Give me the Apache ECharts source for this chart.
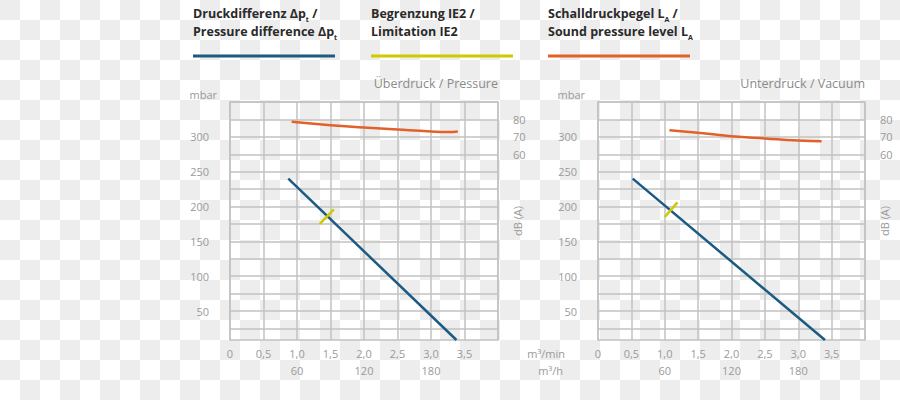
<!DOCTYPE html>
<html>
<head>
<meta charset="utf-8">
<script src="https://cdn.jsdelivr.net/npm/echarts@6/dist/echarts.min.js"></script>
<style>
  html, body { margin: 0; padding: 0; }
  body {
    width: 900px; height: 400px;
    background-color: #fff;
    background-image: conic-gradient(#fff 25%, #ededed 0 50%, #fff 0 75%, #ededed 0);
    background-size: 40px 40px;
  }
  #main { width: 900px; height: 400px; }
</style>
</head>
<body>
<div id="main"></div>
<script>
// flow axis (m3/min) and secondary flow axis (m3/h)
var flowLabels = [0, 0.5, 1, 1.5, 2, 2.5, 3, 3.5];
var hourLabels = [60, 120, 180];
// pressure axis (mbar) and sound axis (dB(A))
var mbarTicks = [25, 50, 75, 100, 125, 150, 175, 200, 225, 250, 275, 300, 325, 350];
var mbarLabels = [50, 100, 150, 200, 250, 300];
var dbLabels = [60, 70, 80];

// Überdruck / Pressure
var pressureOver = [[0.87, 240], [3.38, 8.5]];
var limitOver = [[1.34, 175], [1.55, 196]];
var soundOver = [[0.92, 78.6], [1.5, 76.7], [2.0, 75.4], [2.5, 74.2], [3.0, 73.1], [3.25, 72.8], [3.4, 73.1]];

// Unterdruck / Vacuum
var pressureVac = [[0.52, 240], [3.40, 8.5]];
var limitVac = [[1.0, 185], [1.19, 206]];
var soundVac = [[1.07, 73.8], [1.5, 72.3], [2.0, 70.4], [2.5, 69.1], [3.0, 67.9], [3.35, 67.5]];

var mbarMin = 8.5, mbarMax = 350;
// dB axis is tied to the mbar axis: 70 dB on the 300 line, 10 dB per 25 mbar
var dbMin = 70 - (300 - mbarMin) / 2.5;
var dbMax = 70 + (mbarMax - 300) / 2.5;

var BLUE = '#1b5a82', YELLOW = '#cfc900', ORANGE = '#e2612b';
var GRIDLINE = '#c2c2c2', LABEL = '#9a9a9a';
var FONT = 'Open Sans';

function flowFmt(v) {
  return v === 0 ? '0' : v.toFixed(1).replace('.', ',');
}

function flowAxis(grid) {
  return {
    type: 'value', gridIndex: grid, min: 0, max: 4, interval: 0.5,
    axisLine: { show: false },
    axisTick: { show: false },
    axisLabel: { customValues: flowLabels, formatter: flowFmt, color: LABEL, fontSize: 11, fontFamily: FONT, margin: 8 },
    splitLine: { show: true, lineStyle: { color: GRIDLINE, width: 1.5 } }
  };
}

function hourAxis(grid) {
  return {
    type: 'value', gridIndex: grid, min: 0, max: 240, position: 'bottom', offset: 17,
    axisLine: { show: false },
    axisTick: { show: false },
    axisLabel: { customValues: hourLabels, color: LABEL, fontSize: 11, fontFamily: FONT, margin: 8 },
    splitLine: { show: false }
  };
}

function mbarAxis(grid) {
  return {
    type: 'value', gridIndex: grid, min: mbarMin, max: mbarMax, position: 'left',
    name: 'mbar', nameLocation: 'end', nameGap: 2,
    nameTextStyle: { color: LABEL, fontSize: 11, fontFamily: FONT, align: 'right', padding: [0, 13, 0, 0] },
    axisLine: { show: false },
    axisTick: { show: false, customValues: mbarTicks },
    axisLabel: { customValues: mbarLabels, color: LABEL, fontSize: 11, fontFamily: FONT, margin: 21 },
    splitLine: { show: true, lineStyle: { color: GRIDLINE, width: 1.5 } }
  };
}

function dbAxis(grid) {
  return {
    type: 'value', gridIndex: grid, min: dbMin, max: dbMax, position: 'right',
    name: 'dB (A)', nameLocation: 'middle', nameRotate: 90, nameGap: 14, nameMoveOverlap: false,
    nameTextStyle: { color: LABEL, fontSize: 11, fontFamily: FONT },
    axisLine: { show: false },
    axisTick: { show: false },
    axisLabel: { customValues: dbLabels, color: LABEL, fontSize: 11, fontFamily: FONT, margin: 15 },
    splitLine: { show: false }
  };
}

function lineSeries(xi, yi, data, color, smooth) {
  return {
    type: 'line', xAxisIndex: xi, yAxisIndex: yi, data: data,
    smooth: smooth, symbol: 'none', silent: true,
    lineStyle: { color: color, width: 2.5 }
  };
}

var legendRich = {
  b: { fontSize: 12.5, fontWeight: 'bold', fontFamily: FONT, fill: '#2a2a2a', lineHeight: 18 },
  s: { fontSize: 7, fontWeight: 'bold', fontFamily: FONT, fill: '#2a2a2a', lineHeight: 9, verticalAlign: 'bottom' }
};

function legendItem(x, text, color) {
  return [
    { type: 'text', left: x, top: 7, style: { text: text, rich: legendRich } },
    { type: 'line', shape: { x1: x, y1: 56, x2: x + 142, y2: 56 }, style: { stroke: color, lineWidth: 3 } }
  ];
}

var chart = echarts.init(document.getElementById('main'), null, { renderer: 'svg' });

chart.setOption({
  animation: false,
  title: [
    { text: 'Überdruck / Pressure', right: 402, top: 77, padding: 0,
      textStyle: { color: '#8a8a8a', fontSize: 12.5, fontWeight: 'normal', fontFamily: FONT } },
    { text: 'Unterdruck / Vacuum', right: 35, top: 77, padding: 0,
      textStyle: { color: '#8a8a8a', fontSize: 12.5, fontWeight: 'normal', fontFamily: FONT } }
  ],
  grid: [
    { left: 230, top: 102, width: 268, height: 238, show: true, borderColor: GRIDLINE, borderWidth: 1.5, backgroundColor: 'transparent' },
    { left: 598, top: 102, width: 267, height: 238, show: true, borderColor: GRIDLINE, borderWidth: 1.5, backgroundColor: 'transparent' }
  ],
  xAxis: [flowAxis(0), hourAxis(0), flowAxis(1), hourAxis(1)],
  yAxis: [mbarAxis(0), dbAxis(0), mbarAxis(1), dbAxis(1)],
  graphic: [].concat(
    legendItem(193, '{b|Druckdifferenz Δp}{s|t}{b| /}\n{b|Pressure difference Δp}{s|t}', BLUE),
    legendItem(371, '{b|Begrenzung IE2 /}\n{b|Limitation IE2}', YELLOW),
    legendItem(548, '{b|Schalldruckpegel L}{s|A}{b| /}\n{b|Sound pressure level L}{s|A}', ORANGE),
    [
      { type: 'text', right: 335, top: 348, style: { text: 'm³/min', fill: LABEL, fontSize: 11, fontFamily: FONT } },
      { type: 'text', right: 337, top: 365, style: { text: 'm³/h', fill: LABEL, fontSize: 11, fontFamily: FONT } }
    ]
  ),
  series: [
    lineSeries(0, 1, soundOver, ORANGE, true),
    lineSeries(0, 0, pressureOver, BLUE, false),
    lineSeries(0, 0, limitOver, YELLOW, false),
    lineSeries(2, 3, soundVac, ORANGE, true),
    lineSeries(2, 2, pressureVac, BLUE, false),
    lineSeries(2, 2, limitVac, YELLOW, false)
  ]
});
</script>
</body>
</html>
